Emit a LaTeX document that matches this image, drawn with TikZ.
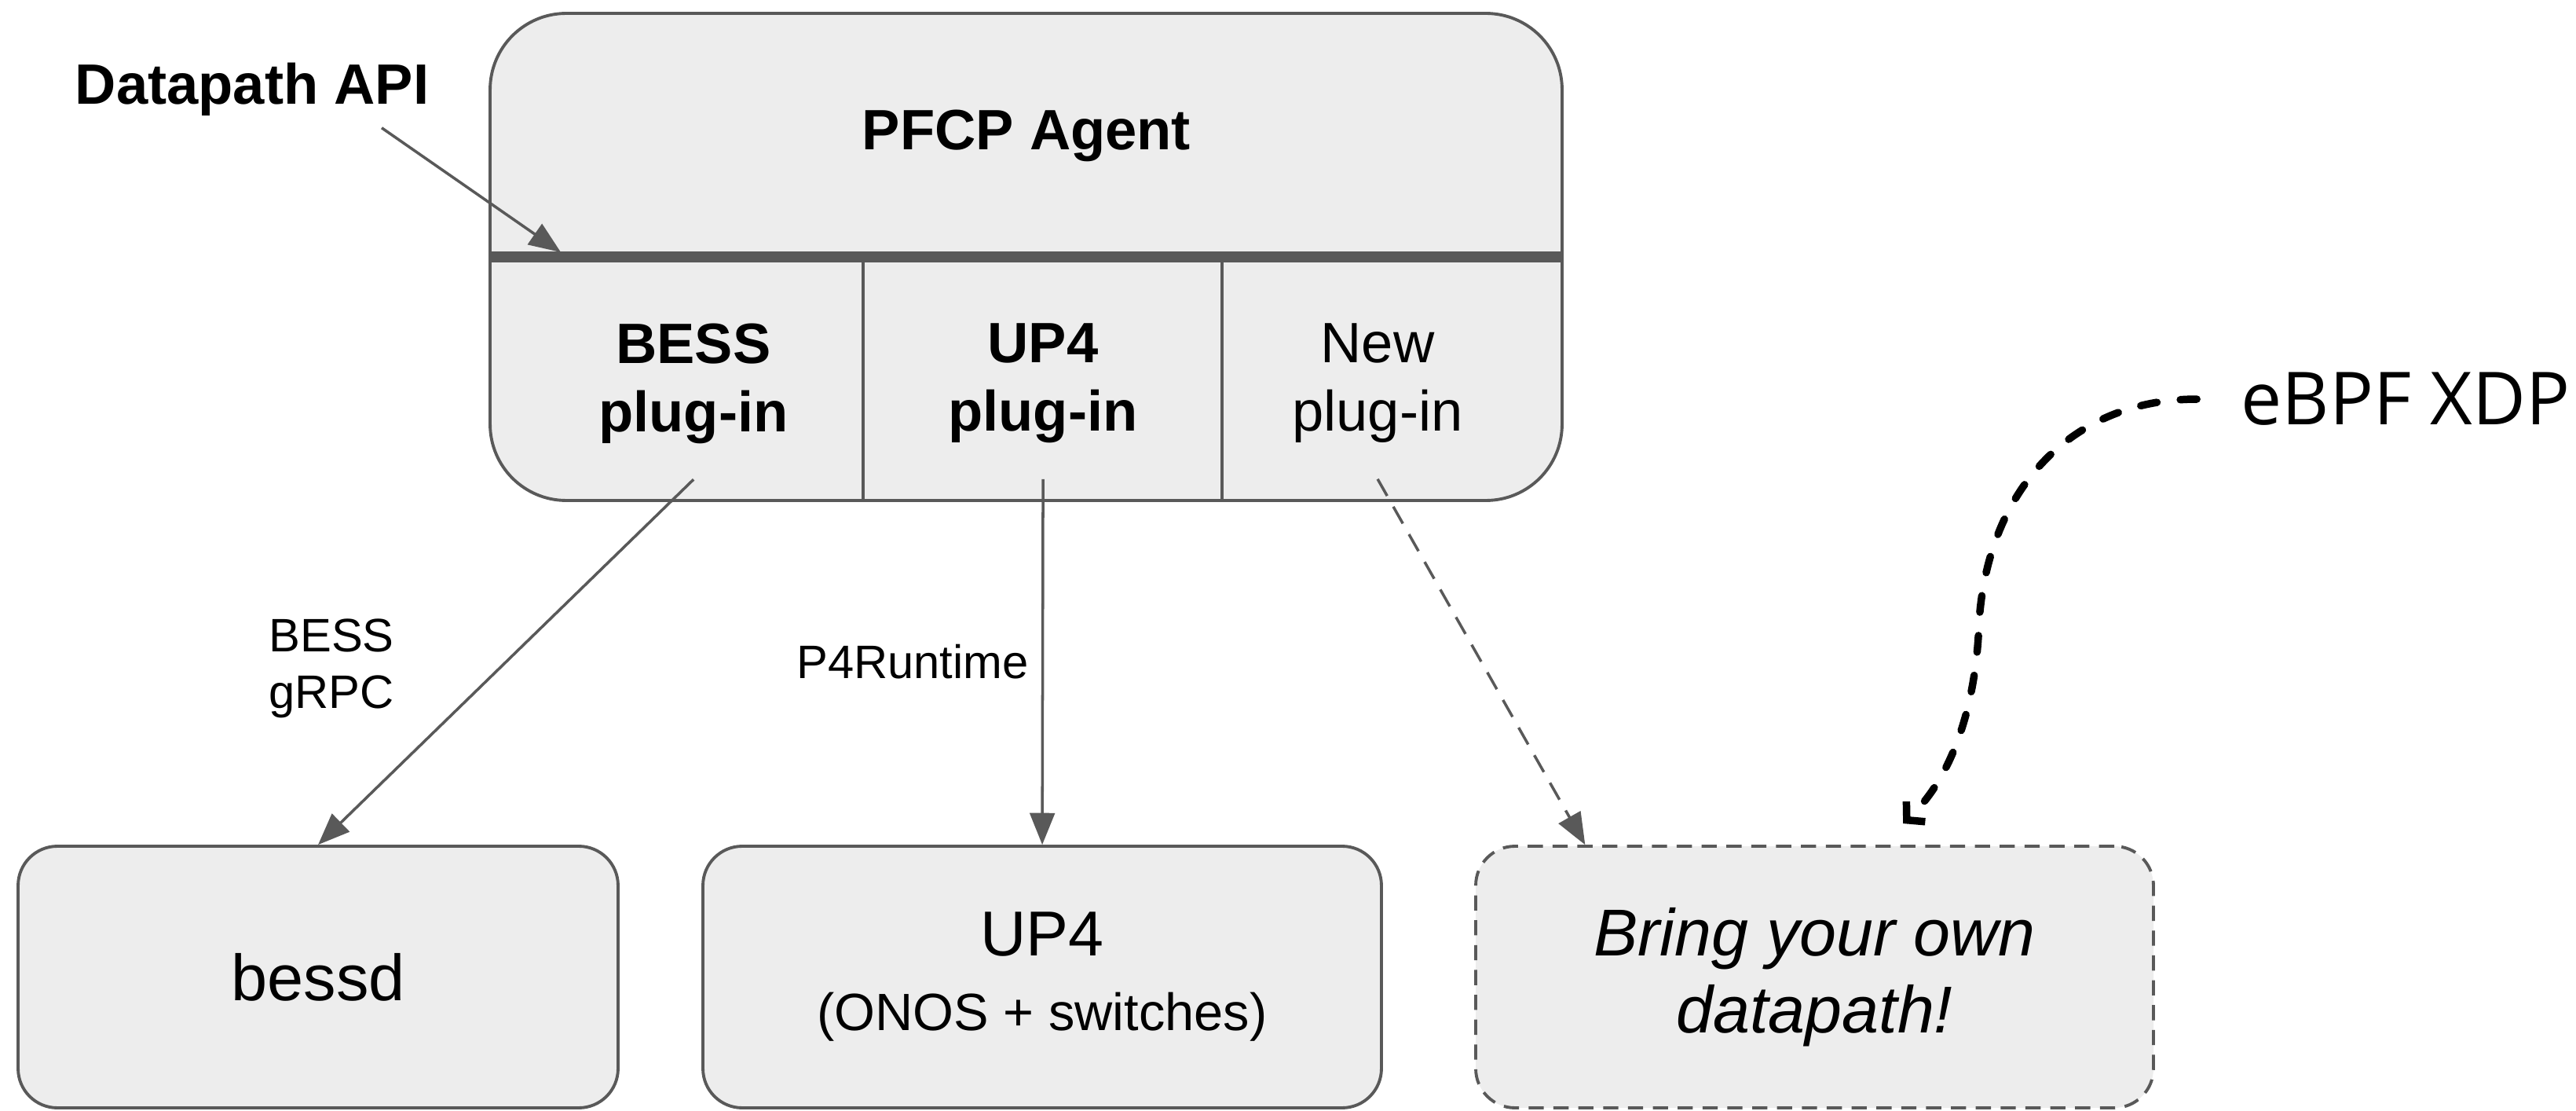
\documentclass[tikz,border=0pt]{standalone}
\usepackage{fontspec}
\setmainfont{Liberation Sans}
\newfontfamily\xdpfont{Open Sans}
\usepackage{tikz}
\usetikzlibrary{arrows.meta,positioning}
\definecolor{boxgray}{HTML}{EDEDED}
\definecolor{linegray}{HTML}{595959}

\begin{document}
\begin{tikzpicture}[scale=0.1,
  agentbox/.style={draw=linegray, line width=1.1pt, fill=boxgray, rounded corners=0.97cm, minimum width=13.65cm, minimum height=6.2cm},
  dpbox/.style={draw=linegray, line width=1.1pt, fill=boxgray, rounded corners=0.5cm, minimum height=3.33cm, align=center},
  flow/.style={draw=linegray, line width=1pt, -{Triangle[length=11.5pt,width=9pt]}},
  xdpflow/.style={black, line width=2.7pt, line cap=round, dash pattern=on 6pt off 8.5pt, -{Straight Barb[length=4.5pt,width=10pt]}},
  title/.style={font=\bfseries\fontsize{20.6}{24.8}\selectfont, align=center},
  plain/.style={font=\fontsize{20.6}{24.8}\selectfont, align=center},
  lbl/.style={font=\fontsize{17}{20.4}\selectfont, align=center}]
\tikzstyle{every node}+=[inner sep=0pt]
\useasboundingbox (0,0) rectangle (328,-141.4);
% agent box with the plug-in cells
\node[agentbox] (pfcp) at (130.65,-32.7) {};
\draw[draw=linegray, line width=3.8pt] (pfcp.west) -- (pfcp.east);
\draw[draw=linegray, line width=1pt] (109.9,-32.8) -- (109.9,-32.8 |- pfcp.south);
\draw[draw=linegray, line width=1pt] (155.6,-32.8) -- (155.6,-32.8 |- pfcp.south);
\node[title, anchor=base] (pfcptxt) at (130.7,-19.1) {PFCP Agent};
\node[title, anchor=base] (dpapi) at (32.1,-13.3) {Datapath API};
\node[title] (bessplug) at (88.3,-48.8) {BESS\\plug-in};
\node[title] (up4plug) at (132.8,-48.8) {UP4\\plug-in};
\node[plain] (newplug) at (175.4,-48.8) {New\\plug-in};
\coordinate (apitip) at (71.4,-32.1);
\draw[flow] (dpapi.south east) ++(-6.1,-1.4) -- (apitip);
% datapaths
\node[dpbox, minimum width=7.64cm, font=\fontsize{23.6}{28}\selectfont] (bessd) at (40.5,-124.35) {bessd};
\node[dpbox, minimum width=8.64cm, font=\fontsize{23}{27}\selectfont] (up4) at (132.7,-124.35) {UP4\\\fontsize{19}{23}\selectfont(ONOS + switches)};
\node[dpbox, dash pattern=on 5.5pt off 3.5pt, minimum width=8.63cm, font=\itshape\fontsize{24}{28}\selectfont] (byod) at (231.05,-124.35) {Bring your own\\datapath!};
\path (byod.north west) ++(14.1,0) coordinate (byodin);
\node[lbl] (grpclbl) at (42.2,-85.1) {BESS\\gRPC};
\draw[flow] (bessplug.south) ++(0,-4.5) -- (bessd.north);
\draw[flow] (up4plug.south) ++(0,-4.5) -- node[lbl, left=0.16cm] (p4lbl) {P4Runtime} (up4.north);
\draw[flow, dash pattern=on 7pt off 4.5pt] (newplug.south) ++(0,-4.5) -- (byodin);
% eBPF XDP
\node[font=\xdpfont\fontsize{26.5}{31}\selectfont, anchor=west] (xdp) at (285.3,-50.8) {eBPF XDP};
\coordinate (xdptip) at (242.3,-104.8);
\draw[xdpflow] (xdp.west) ++(-5.6,0) .. controls (264,-50.8) and (253.2,-62) .. (252,-79) .. controls (251.6,-91) and (248,-99.5) .. (xdptip);
\end{tikzpicture}
\end{document}
